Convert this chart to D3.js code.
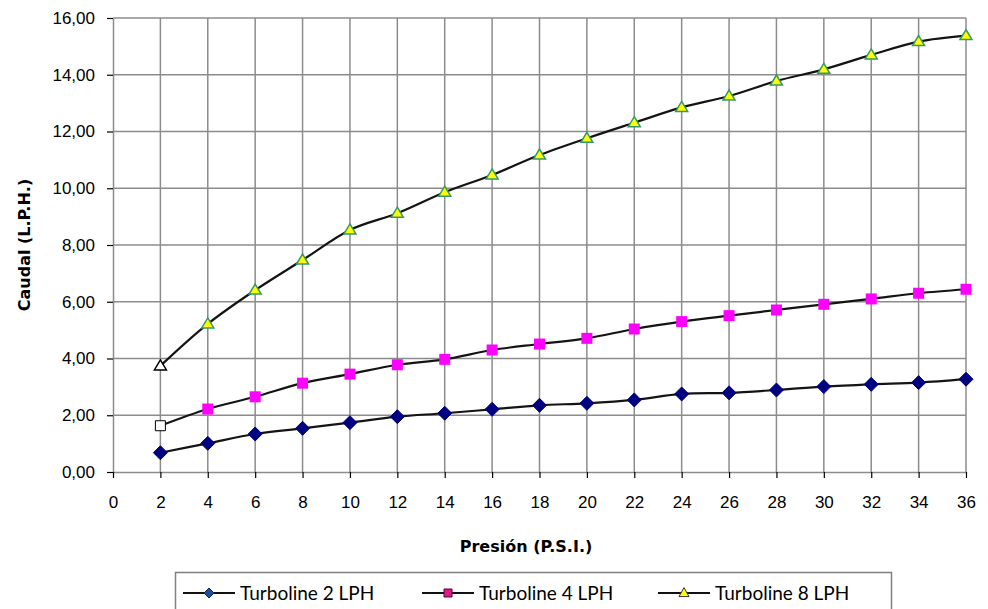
<!DOCTYPE html>
<html>
<head>
<meta charset="utf-8">
<script src="https://cdn.jsdelivr.net/npm/d3@7"></script>
<style>
  body { margin: 0; background: #fff; }
  svg { display: block; font-family: "Century Gothic", "DejaVu Sans", sans-serif; }
</style>
</head>
<body>
<script>
const width = 988;
const height = 609;

// presión (P.S.I.)
const presion = [2, 4, 6, 8, 10, 12, 14, 16, 18, 20, 22, 24, 26, 28, 30, 32, 34, 36];

// caudal (L.P.H.) per emitter
const turbo2 = [0.68, 1.01, 1.34, 1.54, 1.74, 1.95, 2.07, 2.21, 2.35, 2.42, 2.54, 2.75, 2.79, 2.89, 3.01, 3.09, 3.15, 3.27];
const turbo4 = [1.63, 2.22, 2.65, 3.13, 3.45, 3.78, 3.97, 4.30, 4.51, 4.71, 5.04, 5.30, 5.51, 5.71, 5.91, 6.10, 6.30, 6.44];
const turbo8 = [3.74, 5.22, 6.41, 7.47, 8.53, 9.12, 9.86, 10.47, 11.17, 11.76, 12.31, 12.85, 13.25, 13.78, 14.19, 14.70, 15.17, 15.38];

const seriesNames = ["Turboline 2 LPH", "Turboline 4 LPH", "Turboline 8 LPH"];
const xTicks = d3.range(0, 37, 2);
const yTicks = d3.range(0, 17, 2);

const margin = { top: 18, right: 22, bottom: 137, left: 113 };

const svg = d3
  .select("body")
  .append("svg")
  .attr("width", width)
  .attr("height", height);

const x = d3.scaleLinear().domain([0, 36]).range([margin.left, width - margin.right]);
const y = d3.scaleLinear().domain([0, 16]).range([height - margin.bottom, margin.top]);

// grid
const grid = svg.append("g").attr("stroke", "#8c8c8c").attr("stroke-width", 1.5);
grid.selectAll(".gy")
  .data(yTicks.filter((d) => d > 0))
  .enter()
  .append("line")
  .attr("x1", x(0))
  .attr("x2", x(36))
  .attr("y1", (d) => y(d))
  .attr("y2", (d) => y(d));
grid.selectAll(".gx")
  .data(xTicks.filter((d) => d > 0))
  .enter()
  .append("line")
  .attr("y1", y(0))
  .attr("y2", y(16))
  .attr("x1", (d) => x(d))
  .attr("x2", (d) => x(d));

// axes
const fmt = (d) => d3.format(".2f")(d).replace(".", ",");

const yAxis = svg
  .append("g")
  .attr("transform", `translate(${x(0)},0)`)
  .call(d3.axisLeft(y).tickValues(yTicks).tickFormat(fmt).tickSize(6).tickPadding(12).tickSizeOuter(0));

const xAxis = svg
  .append("g")
  .attr("transform", `translate(0,${y(0)})`)
  .call(d3.axisBottom(x).tickValues(xTicks).tickFormat(d3.format("d")).tickSize(6).tickPadding(18).tickSizeOuter(0));

[xAxis, yAxis].forEach((a) => {
  a.select(".domain").attr("stroke", "#8c8c8c").attr("stroke-width", 1.5);
  a.selectAll(".tick line").attr("stroke", "#000").attr("stroke-width", 1.2);
  a.selectAll(".tick text").attr("font-size", 17).attr("fill", "#000").attr("font-family", null);
});

svg.append("text")
  .attr("transform", `translate(24,${(y(0) + y(16)) / 2}) rotate(-90)`)
  .attr("text-anchor", "middle")
  .attr("dy", "0.35em")
  .attr("font-weight", "bold")
  .attr("font-size", 16)
  .text("Caudal (L.P.H.)");

svg.append("text")
  .attr("x", 526)
  .attr("y", 552)
  .attr("text-anchor", "middle")
  .attr("font-weight", "bold")
  .attr("font-size", 16)
  .text("Presión (P.S.I.)");

// lines
const line = d3
  .line()
  .x((d, i) => x(presion[i]))
  .y((d) => y(d))
  .curve(d3.curveCatmullRom.alpha(0.5));

[turbo2, turbo4, turbo8].forEach((s) => {
  svg.append("path")
    .attr("d", line(s))
    .attr("fill", "none")
    .attr("stroke", "#141414")
    .attr("stroke-width", 2.2);
});

// marker shapes
const diamond = (r) => `M0,${-r}L${r},0L0,${r}L${-r},0Z`;
const square = (s) => `M${-s / 2},${-s / 2}h${s}v${s}h${-s}Z`;
const triangle = (w, h) => `M0,${-h * 0.6}L${w / 2},${h * 0.4}L${-w / 2},${h * 0.4}Z`;

svg.append("g")
  .selectAll("path")
  .data(turbo2)
  .enter()
  .append("path")
  .attr("transform", (d, i) => `translate(${x(presion[i])},${y(d)})`)
  .attr("d", diamond(7))
  .attr("fill", "#000080")
  .attr("stroke", "#000080");

svg.append("g")
  .selectAll("path")
  .data(turbo4)
  .enter()
  .append("path")
  .attr("transform", (d, i) => `translate(${x(presion[i])},${y(d)})`)
  .attr("d", (d, i) => (i === 0 ? square(10) : square(11)))
  .attr("fill", (d, i) => (i === 0 ? "#fff" : "#ff00ff"))
  .attr("stroke", (d, i) => (i === 0 ? "#000" : "none"));

svg.append("g")
  .selectAll("path")
  .data(turbo8)
  .enter()
  .append("path")
  .attr("transform", (d, i) => `translate(${x(presion[i])},${y(d)})`)
  .attr("d", triangle(12, 10))
  .attr("fill", (d, i) => (i === 0 ? "#fff" : "#ffff00"))
  .attr("stroke", (d, i) => (i === 0 ? "#000" : "#339966"))
  .attr("stroke-width", 1.5);

// legend
const legend = svg.append("g");
legend.append("rect")
  .attr("x", 175.5)
  .attr("y", 572.5)
  .attr("width", 716)
  .attr("height", 60)
  .attr("fill", "#fff")
  .attr("stroke", "#808080")
  .attr("stroke-width", 1.5);

const legendX = [183, 422, 658];
const legendY = 593;
const legendMarks = [
  { d: diamond(5), fill: "#1f4f95", stroke: "#0d2a55" },
  { d: square(8), fill: "#e0178a", stroke: "#4a0830" },
  { d: triangle(10, 9), fill: "#ffff00", stroke: "#333" },
];

seriesNames.forEach((name, i) => {
  const g = legend.append("g").attr("transform", `translate(${legendX[i]},${legendY})`);
  g.append("line").attr("x1", 0).attr("x2", 52).attr("stroke", "#111").attr("stroke-width", 2);
  g.append("path")
    .attr("transform", "translate(26,0)")
    .attr("d", legendMarks[i].d)
    .attr("fill", legendMarks[i].fill)
    .attr("stroke", legendMarks[i].stroke)
    .attr("stroke-width", 1);
  g.append("text")
    .attr("x", 57)
    .attr("y", 0)
    .attr("dy", "0.35em")
    .attr("font-family", "Lato, sans-serif")
    .attr("font-size", 19)
    .text(name);
});
</script>
</body>
</html>
